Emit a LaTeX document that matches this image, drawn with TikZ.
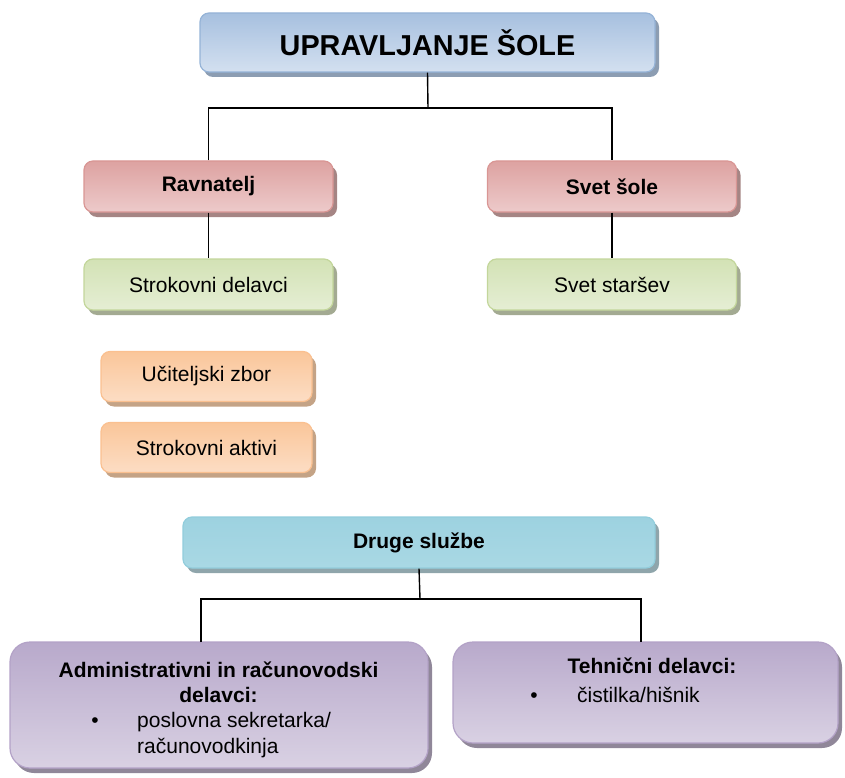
\documentclass[tikz,border=0pt]{standalone}
\usepackage{fontspec}
\setmainfont{Liberation Sans}
\usetikzlibrary{shadows}
\definecolor{bbord}{HTML}{95B3D7}\definecolor{bdark}{HTML}{A7C0DF}\definecolor{bmid}{HTML}{E1E9F4}\definecolor{blight}{HTML}{D3E0F0}\definecolor{bshad}{HTML}{8C9DB2}
\definecolor{rbord}{HTML}{D99694}\definecolor{rdark}{HTML}{DDA2A1}\definecolor{rmid}{HTML}{F4E0E0}\definecolor{rlight}{HTML}{EDCACA}\definecolor{rshad}{HTML}{A58584}
\definecolor{gbord}{HTML}{C3D69B}\definecolor{gdark}{HTML}{D3E2B5}\definecolor{gmid}{HTML}{EFF4E4}\definecolor{glight}{HTML}{E5EED4}\definecolor{gshad}{HTML}{A3AA92}
\definecolor{obord}{HTML}{FAC090}\definecolor{odark}{HTML}{FAC69A}\definecolor{omid}{HTML}{FEEDE0}\definecolor{olight}{HTML}{FCDDC4}\definecolor{oshad}{HTML}{C4A386}
\definecolor{cbord}{HTML}{92CDDC}\definecolor{cdark}{HTML}{9DD2E0}\definecolor{cmid}{HTML}{E0F0F5}\definecolor{clight}{HTML}{A9D8E4}\definecolor{cshad}{HTML}{8FA5AB}
\definecolor{pbord}{HTML}{B3A2C7}\definecolor{pdark}{HTML}{B8A9CB}\definecolor{pmid}{HTML}{E8E3EE}\definecolor{plight}{HTML}{D9D1E3}\definecolor{pshad}{HTML}{908799}
\tikzset{
  base/.style={rounded corners=9pt, line width=1.2pt, inner sep=0pt, text=black,
    font=\fontsize{21}{25}\selectfont},
  grad/.style n args={5}{draw=#1, top color=#2, middle color=#3, bottom color=#4, shading angle=0,
    drop shadow={shadow xshift=4pt, shadow yshift=-5pt, fill=#5, opacity=1}},
  bluebox/.style={base, grad={bbord}{bdark}{bmid}{blight}{bshad}},
  redbox/.style={base, grad={rbord}{rdark}{rmid}{rlight}{rshad}, minimum width=249pt, minimum height=51pt, font=\fontsize{21}{25}\selectfont\bfseries},
  greenbox/.style={base, grad={gbord}{gdark}{gmid}{glight}{gshad}, minimum width=249pt, minimum height=51pt},
  orangebox/.style={base, grad={obord}{odark}{omid}{olight}{oshad}, minimum width=211pt, minimum height=50pt},
  cyanbox/.style={base, grad={cbord}{cdark}{cmid}{clight}{cshad}},
  purplebox/.style={base, rounded corners=20pt, grad={pbord}{pdark}{pmid}{plight}{pshad}},
  conn/.style={draw=black, line width=1.4pt},
  txt/.style={inner sep=0pt, font=\fontsize{21}{25}\selectfont, text height=15pt, text depth=4pt},
  btxt/.style={txt, font=\fontsize{21}{25}\selectfont\bfseries},
}
\begin{document}
\begin{tikzpicture}[x=1pt, y=-1pt]
\useasboundingbox (0,0) rectangle (845,778);
% connectors
\coordinate (tj) at (428,108);
\coordinate (dj) at (420,599);
\coordinate (dl) at (201,642);
\coordinate (dr) at (641,642);
\node[bluebox, minimum width=455pt, minimum height=59pt, font=\fontsize{28.8}{30}\selectfont\bfseries] (top) at (427.5,42.5) {UPRAVLJANJE ŠOLE};
\node[redbox] (rav) at (208.5,186.5) {Ravnatelj};
\node[redbox] (svet) at (612,186.5) {Svet šole};
\node[greenbox] (strok) at (208.5,284.5) {Strokovni delavci};
\node[greenbox] (stars) at (612,284.5) {Svet staršev};
\node[orangebox] (uz) at (206.5,376.5) {Učiteljski zbor};
\node[orangebox] (sa) at (206.5,447.5) {Strokovni aktivi};
\node[cyanbox, minimum width=472pt, minimum height=51pt, font=\fontsize{21}{25}\selectfont\bfseries] (druge) at (419,542.5) {Druge službe};
\node[purplebox, minimum width=418pt, minimum height=126pt] (admin) at (219,705) {};
\node[purplebox, minimum width=385pt, minimum height=101pt] (teh) at (645.5,692.5) {};
\draw[conn] (top.south) -- (tj);
\draw[conn] (rav.north) |- (tj) -| (svet.north);
\draw[conn] (rav.south) -- (strok.north);
\draw[conn] (svet.south) -- (stars.north);
\draw[conn] (druge.south) -- (dj);
\draw[conn] (dl) |- (dj) -| (dr);
% admin texts
\node[btxt] (a1) at (218.5,672) {Administrativni in računovodski};
\node[btxt] (a2) at (218.5,697) {delavci:};
\node[txt] (ab) at (95,722) {•};
\node[txt, anchor=west] (a3) at (137,722) {poslovna sekretarka/};
\node[txt, anchor=west] (a4) at (137,748) {računovodkinja};
% technical texts
\node[btxt] (t1) at (652,668) {Tehnični delavci:};
\node[txt] (tb) at (534,697) {•};
\node[txt, anchor=west] (t2) at (577,697) {čistilka/hišnik};
\end{tikzpicture}
\end{document}
